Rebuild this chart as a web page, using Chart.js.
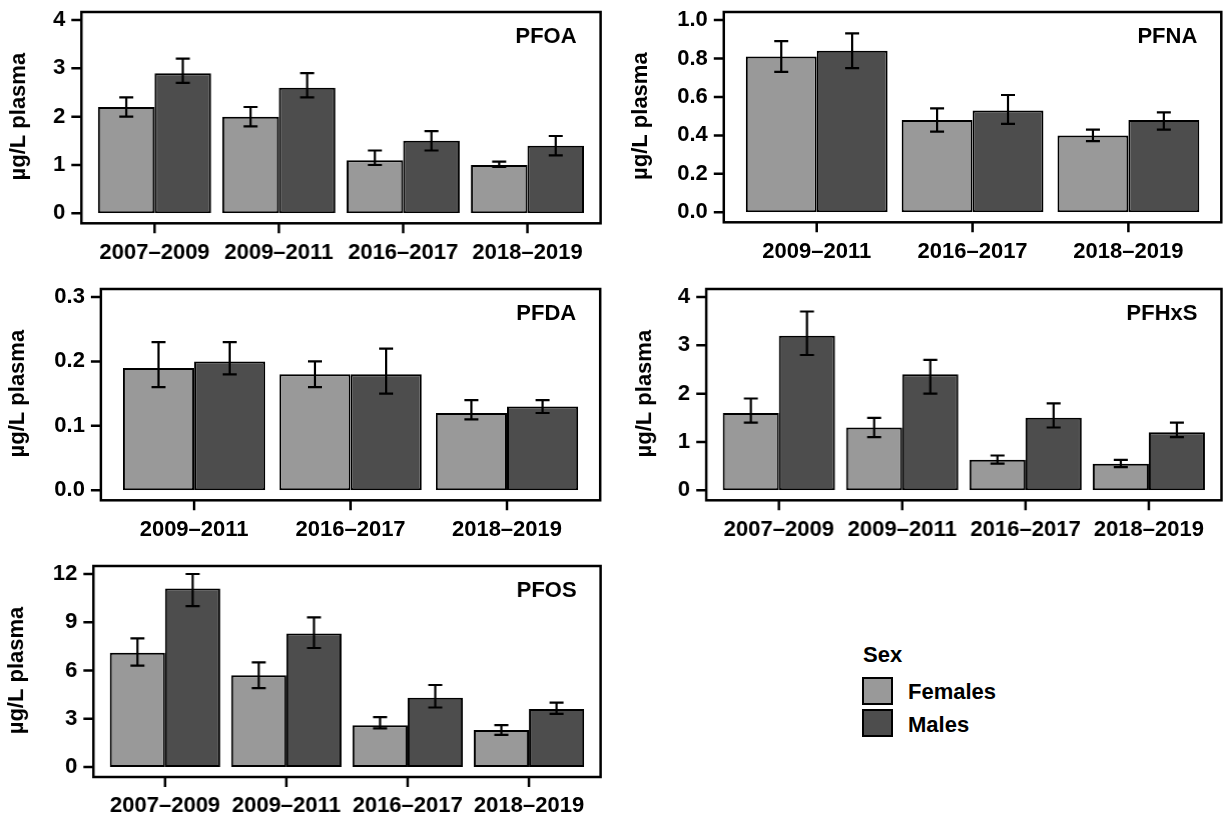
<!DOCTYPE html>
<html>
<head>
<meta charset="utf-8">
<script src="https://cdn.jsdelivr.net/npm/chart.js@4.4.1/dist/chart.umd.min.js"></script>
<style>
  body { margin: 0; background: #fff; width: 1225px; height: 817px; position: relative; overflow: hidden;
         font-family: "Liberation Sans", Arial, sans-serif; }
  .panel { position: absolute; }
  .legend { position: absolute; font-weight: bold; font-size: 22px; color: #000; }
  .legend .sw { position: absolute; width: 27px; height: 24px; border: 2.5px solid #000; }
  .legend span { position: absolute; line-height: 26px; white-space: nowrap; }
</style>
</head>
<body>
<div class="panel" id="p1"><canvas id="c1"></canvas></div>
<div class="panel" id="p2"><canvas id="c2"></canvas></div>
<div class="panel" id="p3"><canvas id="c3"></canvas></div>
<div class="panel" id="p4"><canvas id="c4"></canvas></div>
<div class="panel" id="p5"><canvas id="c5"></canvas></div>

<div class="legend">
  <span style="left:863px; top:642px;">Sex</span>
  <div class="sw" style="left:862px; top:677px; background:#999999;"></div>
  <div class="sw" style="left:862px; top:709px; background:#4d4d4d;"></div>
  <span style="left:908px; top:679px;">Females</span>
  <span style="left:908px; top:712px;">Males</span>
</div>

<script>
// periods
const periods4 = ['2007–2009', '2009–2011', '2016–2017', '2018–2019'];
const periods3 = ['2009–2011', '2016–2017', '2018–2019'];
const sexes = ['Females', 'Males'];

// PFOA (µg/L plasma): mean, lower, upper
const pfoaF = [2.2, 2.0, 1.1, 1.0];
const pfoaFLo = [2.0, 1.8, 1.0, 0.96];
const pfoaFHi = [2.4, 2.2, 1.3, 1.07];
const pfoaM = [2.9, 2.6, 1.5, 1.4];
const pfoaMLo = [2.7, 2.4, 1.3, 1.2];
const pfoaMHi = [3.2, 2.9, 1.7, 1.6];
const pfoaTicks = [0, 1, 2, 3, 4];

// PFNA
const pfnaF = [0.81, 0.48, 0.40];
const pfnaFLo = [0.73, 0.42, 0.37];
const pfnaFHi = [0.89, 0.54, 0.43];
const pfnaM = [0.84, 0.53, 0.48];
const pfnaMLo = [0.75, 0.46, 0.43];
const pfnaMHi = [0.93, 0.61, 0.52];
const pfnaTicks = [0, 0.2, 0.4, 0.6, 0.8, 1.0];

// PFDA
const pfdaF = [0.19, 0.18, 0.12];
const pfdaFLo = [0.16, 0.16, 0.11];
const pfdaFHi = [0.23, 0.20, 0.14];
const pfdaM = [0.20, 0.18, 0.13];
const pfdaMLo = [0.18, 0.15, 0.12];
const pfdaMHi = [0.23, 0.22, 0.14];
const pfdaTicks = [0, 0.1, 0.2, 0.3];

// PFHxS
const pfhxsF = [1.6, 1.3, 0.63, 0.55];
const pfhxsFLo = [1.4, 1.1, 0.55, 0.48];
const pfhxsFHi = [1.9, 1.5, 0.72, 0.63];
const pfhxsM = [3.2, 2.4, 1.5, 1.2];
const pfhxsMLo = [2.8, 2.0, 1.3, 1.1];
const pfhxsMHi = [3.7, 2.7, 1.8, 1.4];
const pfhxsTicks = [0, 1, 2, 3, 4];

// PFOS
const pfosF = [7.1, 5.7, 2.6, 2.3];
const pfosFLo = [6.3, 4.9, 2.4, 2.0];
const pfosFHi = [8.0, 6.5, 3.1, 2.6];
const pfosM = [11.1, 8.3, 4.3, 3.6];
const pfosMLo = [10.0, 7.4, 3.7, 3.3];
const pfosMHi = [12.0, 9.3, 5.1, 4.0];
const pfosTicks = [0, 3, 6, 9, 12];

const FONT = '"Liberation Sans", Arial, sans-serif';
const FEMALE = '#999999';
const MALE = '#4d4d4d';

// box around plot region, axis ticks and panel name
const frame = {
  id: 'frame',
  afterDraw(chart, args, opts) {
    const { ctx, chartArea: a, scales } = chart;
    const L = a.left - opts.padX, R = a.right + opts.padX, T = a.top - 8, B = a.bottom + 10;
    ctx.save();
    ctx.strokeStyle = '#000';
    ctx.lineWidth = 2.5;
    ctx.strokeRect(L, T, R - L, B - T);
    ctx.beginPath();
    scales.y.ticks.forEach(t => {
      const y = scales.y.getPixelForValue(t.value);
      ctx.moveTo(L - 10, y); ctx.lineTo(L, y);
    });
    scales.x.ticks.forEach((t, i) => {
      const x = scales.x.getPixelForTick(i);
      ctx.moveTo(x, B); ctx.lineTo(x, B + 10);
    });
    ctx.stroke();
    ctx.fillStyle = '#000';
    ctx.font = 'bold 22px ' + FONT;
    ctx.textAlign = 'right';
    ctx.textBaseline = 'middle';
    ctx.fillText(opts.label, R - 24, T + 25);
    ctx.restore();
  }
};

const errorBars = {
  id: 'errorBars',
  afterDatasetsDraw(chart) {
    const ctx = chart.ctx, y = chart.scales.y;
    ctx.save();
    ctx.strokeStyle = '#000';
    ctx.lineWidth = 2.2;
    chart.data.datasets.forEach((ds, i) => {
      chart.getDatasetMeta(i).data.forEach((bar, j) => {
        const top = y.getPixelForValue(ds.hi[j]);
        const bot = y.getPixelForValue(ds.lo[j]);
        ctx.beginPath();
        ctx.moveTo(bar.x, top); ctx.lineTo(bar.x, bot);
        ctx.moveTo(bar.x - 7, top); ctx.lineTo(bar.x + 7, top);
        ctx.moveTo(bar.x - 7, bot); ctx.lineTo(bar.x + 7, bot);
        ctx.stroke();
      });
    });
    ctx.restore();
  }
};

function makePanel(n, p) {
  const yW = p.l - p.col;
  const div = document.getElementById('p' + n);
  div.style.left = p.col + 'px';
  div.style.top = (p.t - 20) + 'px';
  div.style.width = (p.r + 20 - p.col) + 'px';
  div.style.height = (20 + (p.b - p.t) + 60) + 'px';

  new Chart(document.getElementById('c' + n), {
    type: 'bar',
    data: {
      labels: p.labels,
      datasets: [
        { label: sexes[0], data: p.f, lo: p.fLo, hi: p.fHi, backgroundColor: FEMALE },
        { label: sexes[1], data: p.m, lo: p.mLo, hi: p.mHi, backgroundColor: MALE }
      ]
    },
    options: {
      responsive: true,
      maintainAspectRatio: false,
      animation: false,
      layout: { padding: { left: 0, top: 20, right: 20, bottom: 0 } },
      datasets: {
        bar: {
          borderColor: '#000', borderWidth: 2, borderSkipped: false,
          categoryPercentage: 0.91, barPercentage: 1.0
        }
      },
      plugins: {
        legend: { display: false },
        tooltip: { enabled: false },
        frame: { padX: p.padX, label: p.name }
      },
      scales: {
        x: {
          grid: { display: false, drawTicks: false },
          border: { display: false },
          ticks: { color: '#000', padding: 26, maxRotation: 0, autoSkip: false,
                   font: { family: FONT, size: 22, weight: 'bold' } },
          afterFit: s => { s.height = 60; s.paddingLeft = 0; s.paddingRight = 0; }
        },
        y: {
          min: p.ticks[0],
          max: p.ticks[p.ticks.length - 1],
          grid: { display: false, drawTicks: false },
          border: { display: false },
          afterBuildTicks: s => { s.ticks = p.ticks.map(v => ({ value: v })); },
          ticks: { color: '#000', padding: p.padX + 16,
                   font: { family: FONT, size: 22, weight: 'bold' },
                   callback: v => p.dec ? Number(v).toFixed(1) : String(v) },
          title: { display: true, text: 'µg/L plasma', color: '#000',
                   padding: { top: p.titleX - p.col - 13.2, bottom: 0 },
                   font: { family: FONT, size: 22, weight: 'bold' } },
          afterFit: s => { s.width = yW; s.paddingTop = 0; s.paddingBottom = 0; }
        }
      }
    },
    plugins: [errorBars, frame]
  });
}

makePanel(1, { name: 'PFOA', labels: periods4, f: pfoaF, fLo: pfoaFLo, fHi: pfoaFHi,
  m: pfoaM, mLo: pfoaMLo, mHi: pfoaMHi, ticks: pfoaTicks, dec: false,
  l: 92.25, t: 20, r: 588.65, b: 213.3, col: 0, titleX: 19, padX: 11 });
makePanel(2, { name: 'PFNA', labels: periods3, f: pfnaF, fLo: pfnaFLo, fHi: pfnaFHi,
  m: pfnaM, mLo: pfnaMLo, mHi: pfnaMHi, ticks: pfnaTicks, dec: true,
  l: 738.8, t: 20, r: 1206.3, b: 212.3, col: 615, titleX: 641, padX: 15 });
makePanel(3, { name: 'PFDA', labels: periods3, f: pfdaF, fLo: pfdaFLo, fHi: pfdaFHi,
  m: pfdaM, mLo: pfdaMLo, mHi: pfdaMHi, ticks: pfdaTicks, dec: true,
  l: 115.9, t: 296.7, r: 585.2, b: 490, col: 0, titleX: 17.5, padX: 15 });
makePanel(4, { name: 'PFHxS', labels: periods4, f: pfhxsF, fLo: pfhxsFLo, fHi: pfhxsFHi,
  m: pfhxsM, mLo: pfhxsMLo, mHi: pfhxsMHi, ticks: pfhxsTicks, dec: false,
  l: 717.1, t: 296.7, r: 1209.5, b: 490, col: 615, titleX: 645, padX: 11 });
makePanel(5, { name: 'PFOS', labels: periods4, f: pfosF, fLo: pfosFLo, fHi: pfosFHi,
  m: pfosM, mLo: pfosMLo, mHi: pfosMHi, ticks: pfosTicks, dec: false,
  l: 104.25, t: 574.3, r: 588.65, b: 767.3, col: 0, titleX: 17, padX: 11 });
</script>
</body>
</html>
